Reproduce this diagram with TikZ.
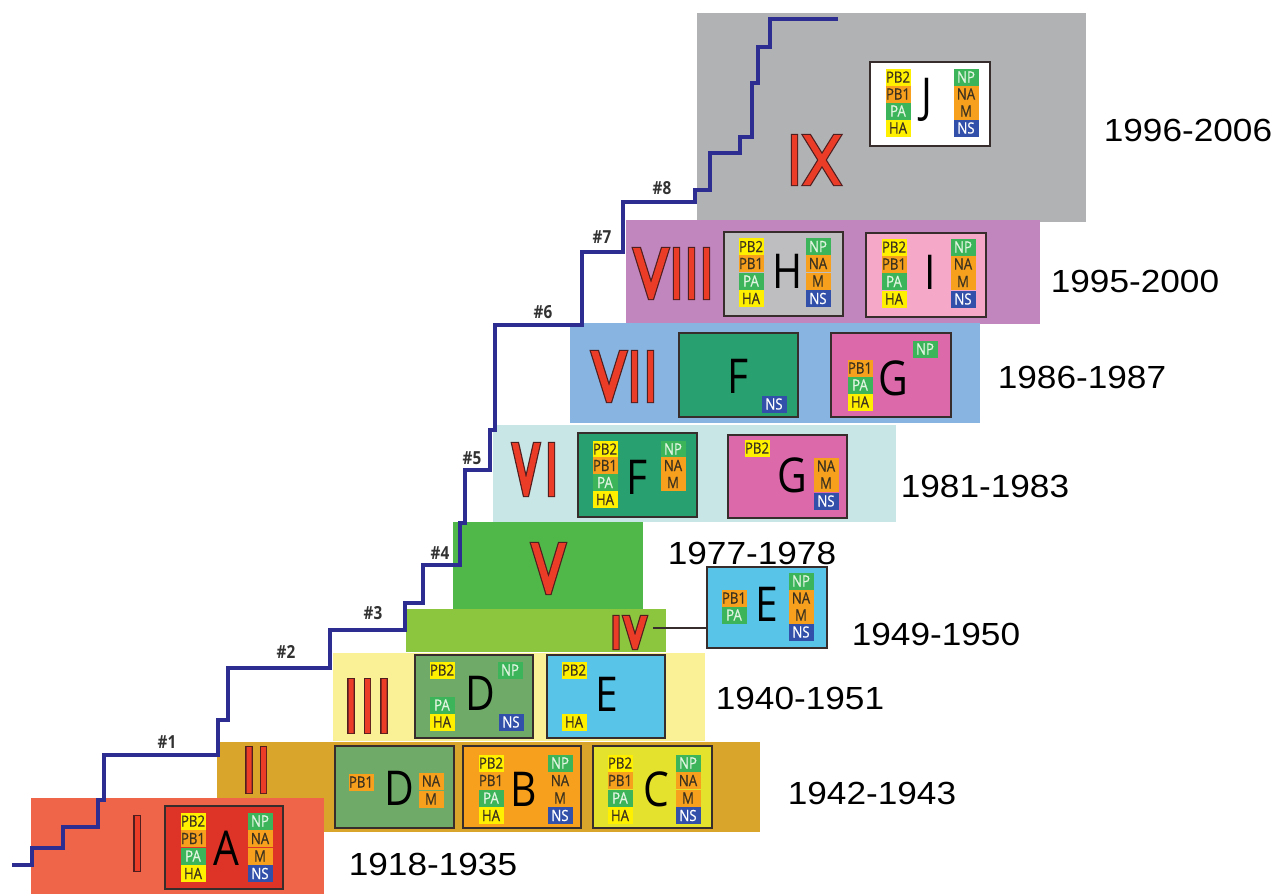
\documentclass[tikz,border=0pt]{standalone}
\usepackage{fontspec}
\setmainfont{Liberation Sans}
\newfontfamily\chipfont[FakeStretch=0.85]{Open Sans}
\newfontfamily\chiplab[FakeStretch=0.85,FakeBold=0.6]{Open Sans}
\newfontfamily\yearfont[FakeStretch=1.1]{Liberation Sans}
\definecolor{bandI}{RGB}{239,101,73}
\definecolor{bandII}{RGB}{218,165,43}
\definecolor{bandIII}{RGB}{250,240,150}
\definecolor{bandIV}{RGB}{140,198,63}
\definecolor{bandV}{RGB}{80,184,72}
\definecolor{bandVI}{RGB}{200,230,230}
\definecolor{bandVII}{RGB}{135,180,224}
\definecolor{bandVIII}{RGB}{193,134,190}
\definecolor{bandIX}{RGB}{177,178,180}
\definecolor{boxRed}{RGB}{222,52,40}
\definecolor{boxMuted}{RGB}{112,170,105}
\definecolor{boxOrange}{RGB}{247,160,30}
\definecolor{boxYellow}{RGB}{228,226,45}
\definecolor{boxBlue}{RGB}{88,197,232}
\definecolor{boxGreen}{RGB}{40,160,112}
\definecolor{boxPink}{RGB}{220,105,170}
\definecolor{boxGrey}{RGB}{190,190,192}
\definecolor{boxLPink}{RGB}{245,168,200}
\definecolor{chipYc}{RGB}{255,240,0}
\definecolor{chipOc}{RGB}{247,160,30}
\definecolor{chipGc}{RGB}{60,180,90}
\definecolor{chipBc}{RGB}{50,80,170}
\definecolor{chipDark}{RGB}{60,50,30}
\definecolor{chipLight}{RGB}{225,245,225}
\definecolor{boxLine}{RGB}{55,45,45}
\definecolor{numRed}{RGB}{235,60,40}
\definecolor{numDark}{RGB}{80,30,30}
\definecolor{stairBlue}{RGB}{45,45,145}
\definecolor{hashGrey}{RGB}{50,50,50}
\newcommand\gbox[6]{\node[gbox, fill=#6, minimum width={#4-#2}, minimum height={#5-#3}] (#1) at ({(#2+#4)/2},{(#3+#5)/2}) {};}
\newcommand\ch[4]{\node[chip,#3] at (#1,#2) {#4};}
\newcommand\numeral[1]{\draw[numDark, line width=2.4pt, line join=miter] #1; \fill[numRed] #1;}
\begin{document}
\begin{tikzpicture}[x=1pt,y=-1pt,
  gbox/.style={draw=boxLine, line width=1.5pt, inner sep=0pt, rectangle},
  chip/.style={inner sep=0pt, minimum width=25pt, minimum height=17pt, font=\chiplab\fontsize{15.5}{15.5}\selectfont},
  chY/.style={fill=chipYc, text=chipDark},
  chO/.style={fill=chipOc, text=chipDark},
  chG/.style={fill=chipGc, text=chipLight},
  chB/.style={fill=chipBc, text=white},
  bigl/.style={inner sep=0pt, font=\chipfont\fontsize{48}{48}\selectfont},
  year/.style={inner sep=0pt, font=\yearfont\fontsize{32}{32}\selectfont},
  hash/.style={inner sep=0pt, text=hashGrey, font=\chipfont\bfseries\fontsize{18}{18}\selectfont},
  stair/.style={draw=stairBlue, line width=4.8pt, line join=miter},
  conn/.style={draw=boxLine, line width=1.3pt}]
\useasboundingbox (0,0) rectangle (1280,894);
\fill[white] (0,0) rectangle (1280,894);
% bands (top to bottom)
\fill[bandIX] (697,13) rectangle (1086,222);
\fill[bandVIII] (626,220) rectangle (1040,324);
\fill[bandVII] (570,323) rectangle (980,423);
\fill[bandVI] (493,425) rectangle (896,522);
\fill[bandV] (453,522) rectangle (643,609);
\fill[bandIV] (406,609) rectangle (666,652);
\fill[bandIII] (333,653) rectangle (705,741);
\fill[bandII] (217,742) rectangle (760,832);
\fill[bandI] (31,798) rectangle (324,894);
% staircase
\draw[stair] (12,865) -- (32,865) -- (32,848) -- (63,848) -- (63,827) -- (98,827) -- (98,800) -- (104,800) -- (104,755) -- (218,755) -- (218,720) -- (228,720) -- (228,668) -- (330,668) -- (330,630) -- (405,630) -- (405,603) -- (423,603) -- (423,565) -- (460,565) -- (460,523) -- (465,523) -- (465,470) -- (490,470) -- (490,430) -- (495,430) -- (495,325) -- (582,325) -- (582,252) -- (623,252) -- (623,202) -- (695,202) -- (695,190) -- (710,190) -- (710,153) -- (740,153) -- (740,137) -- (752,137) -- (752,83) -- (758,83) -- (758,47) -- (770,47) -- (770,19) -- (838,19);
\node[hash] (h1) at (167,742) {\#1};
\node[hash] (h2) at (286,652) {\#2};
\node[hash] (h3) at (373,613) {\#3};
\node[hash] (h4) at (440,553) {\#4};
\node[hash] (h5) at (472,458) {\#5};
\node[hash] (h6) at (543,312) {\#6};
\node[hash] (h7) at (602,237) {\#7};
\node[hash] (h8) at (662,188) {\#8};
% roman numerals
\numeral{(134.5,816) rectangle (139.5,871)}
\numeral{(246.5,747) rectangle (251.5,793) (261,747) rectangle (266,793)}
\numeral{(348.5,679) rectangle (353.5,733) (365,679) rectangle (370,733) (381.5,679) rectangle (386.5,733)}
\numeral{(613.5,616) rectangle (618.5,649) (623,616) -- (629,616) -- (635,635.8) -- (641,616) -- (647,616) -- (637,649) -- (633,649) -- cycle}
\numeral{(531,543) -- (538,543) -- (548.5,577.5) -- (559,543) -- (566,543) -- (550.5,594) -- (546.5,594) -- cycle}
\numeral{(512,443) -- (518,443) -- (526,478.3) -- (534,443) -- (540,443) -- (528,496) -- (524,496) -- cycle (549,443) rectangle (554,496)}
\numeral{(591,351) -- (598,351) -- (609,386.1) -- (620,351) -- (627,351) -- (611,402) -- (607,402) -- cycle (632,351) rectangle (637,402) (648,351) rectangle (653,402)}
\numeral{(633,248) -- (640,248) -- (651,283.1) -- (662,248) -- (669,248) -- (653,299) -- (649,299) -- cycle (674,248) rectangle (679,299) (689,248) rectangle (694,299) (704,248) rectangle (709,299)}
\numeral{(792,135) rectangle (797,185) (803,135) -- (810,135) -- (841,185) -- (834,185) -- cycle (834,135) -- (841,135) -- (810,185) -- (803,185) -- cycle}
% boxes
\gbox{bA}{165}{806}{283}{889}{boxRed}
\ch{193}{821}{chY}{PB2}\ch{193}{838.5}{chO}{PB1}\ch{193}{856}{chG}{PA}\ch{193}{873.5}{chY}{HA}
\ch{260}{821}{chG}{NP}\ch{260}{838.5}{chO}{NA}\ch{260}{856}{chO}{M}\ch{260}{873.5}{chB}{NS}
\node[bigl] at (226,848) {A};
\gbox{bD2}{335}{746}{454}{828}{boxMuted}
\ch{361}{782}{chO}{PB1}\ch{431}{781}{chO}{NA}\ch{431}{799}{chO}{M}
\node[bigl] at (399,788) {D};
\gbox{bB}{463}{746}{581}{828}{boxOrange}
\ch{491}{763}{chY}{PB2}\ch{491}{780.5}{chO}{PB1}\ch{491}{798}{chG}{PA}\ch{491}{815.5}{chY}{HA}
\ch{560}{763}{chG}{NP}\ch{560}{780.5}{chO}{NA}\ch{560}{798}{chO}{M}\ch{560}{815.5}{chB}{NS}
\node[bigl] at (524,789) {B};
\gbox{bC}{593}{746}{712}{828}{boxYellow}
\ch{620}{763}{chY}{PB2}\ch{620}{780.5}{chO}{PB1}\ch{620}{798}{chG}{PA}\ch{620}{815.5}{chY}{HA}
\ch{688}{763}{chG}{NP}\ch{688}{780.5}{chO}{NA}\ch{688}{798}{chO}{M}\ch{688}{815.5}{chB}{NS}
\node[bigl] at (656,789) {C};
\gbox{bD3}{415}{655}{533}{738}{boxMuted}
\ch{442}{670}{chY}{PB2}\ch{510}{670}{chG}{NP}\ch{442}{705}{chG}{PA}\ch{442}{722}{chY}{HA}\ch{511}{722}{chB}{NS}
\node[bigl] at (480,693) {D};
\gbox{bE3}{547}{655}{665}{738}{boxBlue}
\ch{574}{670}{chY}{PB2}\ch{574}{722}{chY}{HA}
\node[bigl] at (607,694) {E};
\gbox{bE4}{707}{567}{827}{648}{boxBlue}
\ch{734}{598}{chO}{PB1}\ch{734}{615}{chG}{PA}
\ch{801}{581}{chG}{NP}\ch{801}{598}{chO}{NA}\ch{801}{615}{chO}{M}\ch{801}{632}{chB}{NS}
\node[bigl] at (767,604) {E};
\coordinate (ivend) at (653,628);
\draw[conn] (ivend) -- (ivend -| bE4.west);
\gbox{bF6}{578}{433}{697}{517}{boxGreen}
\ch{605}{449}{chY}{PB2}\ch{605}{465.5}{chO}{PB1}\ch{605}{482.5}{chG}{PA}\ch{605}{499.5}{chY}{HA}
\ch{673}{449}{chG}{NP}\ch{673}{465.5}{chO}{NA}\ch{673}{482.5}{chO}{M}
\node[bigl] at (637,477) {F};
\gbox{bG6}{728}{435}{847}{518}{boxPink}
\ch{757}{448}{chY}{PB2}\ch{826}{466}{chO}{NA}\ch{826}{483}{chO}{M}\ch{826}{501}{chB}{NS}
\node[bigl] at (792,475) {G};
\gbox{bF7}{679}{333}{798}{417}{boxGreen}
\ch{774}{404}{chB}{NS}
\node[bigl] at (738,376) {F};
\gbox{bG7}{831}{333}{951}{417}{boxPink}
\ch{925}{349}{chG}{NP}\ch{860}{368}{chO}{PB1}\ch{860}{385}{chG}{PA}\ch{860}{402}{chY}{HA}
\node[bigl] at (893,378) {G};
\gbox{bH}{724}{232}{843}{316}{boxGrey}
\ch{751}{246.5}{chY}{PB2}\ch{751}{263.5}{chO}{PB1}\ch{751}{281}{chG}{PA}\ch{751}{298.5}{chY}{HA}
\ch{818}{246.5}{chG}{NP}\ch{818}{263.5}{chO}{NA}\ch{818}{281}{chO}{M}\ch{818}{298.5}{chB}{NS}
\node[bigl] at (788,271) {H};
\gbox{bI}{866}{233}{986}{317}{boxLPink}
\ch{894}{247}{chY}{PB2}\ch{894}{264}{chO}{PB1}\ch{894}{281.5}{chG}{PA}\ch{894}{299}{chY}{HA}
\ch{963}{247}{chG}{NP}\ch{963}{264}{chO}{NA}\ch{963}{281.5}{chO}{M}\ch{963}{299}{chB}{NS}
\node[bigl] at (930,272) {I};
\gbox{bJ}{870}{62}{990}{146}{white}
\ch{898}{77}{chY}{PB2}\ch{898}{94}{chO}{PB1}\ch{898}{111}{chG}{PA}\ch{898}{128}{chY}{HA}
\ch{966}{77}{chG}{NP}\ch{966}{94}{chO}{NA}\ch{966}{111}{chO}{M}\ch{966}{128}{chB}{NS}
\node[bigl] at (927,100) {J};
% years
\node[year] (y9) at (1188,130) {1996-2006};
\node[year] (y8) at (1135,281) {1995-2000};
\node[year] (y7) at (1082,377) {1986-1987};
\node[year] (y6) at (985,486) {1981-1983};
\node[year] (y5) at (752,553) {1977-1978};
\node[year] (y4) at (936,634) {1949-1950};
\node[year] (y3) at (800,698) {1940-1951};
\node[year] (y2) at (872,793) {1942-1943};
\node[year] (y1) at (433,864) {1918-1935};
\end{tikzpicture}
\end{document}
